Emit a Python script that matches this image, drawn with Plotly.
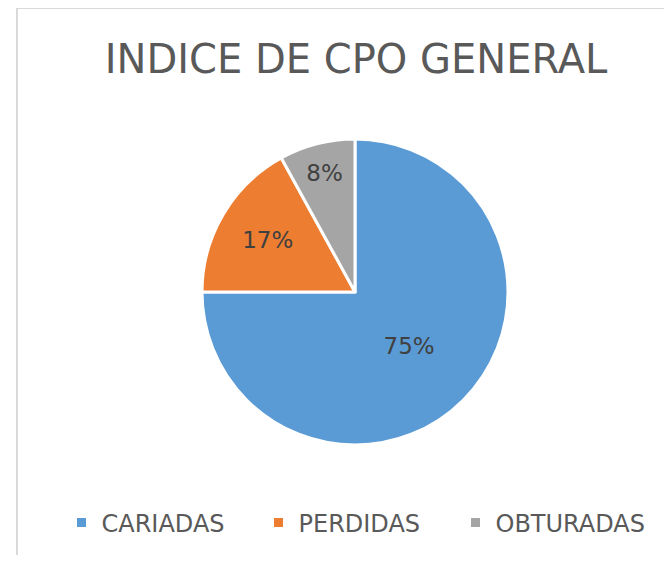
import plotly.graph_objects as go

categories = ["CARIADAS", "PERDIDAS", "OBTURADAS"]
values = [75, 17, 8]
colors = ["#5b9bd5", "#ed7d31", "#a5a5a5"]
title_text = "INDICE DE CPO GENERAL"

# page body has an 8px margin; figure sized to fit inside 672x563 window
OFF = 8
W, H = 672 - 2 * OFF, 563 - 2 * OFF


def px(x):
    return (x - OFF) / W


def py(y):
    return 1 - (y - OFF) / H


cx, cy, r = 355, 292, 153

fig = go.Figure()
fig.add_trace(go.Pie(
    labels=categories,
    values=values,
    sort=False,
    direction="clockwise",
    rotation=0,
    marker=dict(colors=colors, line=dict(color="white", width=3)),
    textinfo="percent",
    textposition="inside",
    insidetextorientation="horizontal",
    textfont=dict(family="DejaVu Sans", size=23, color="#404040"),
    hoverinfo="label+percent",
    domain=dict(x=[px(cx - r), px(cx + r)], y=[py(cy + r), py(cy - r)]),
))

fig.update_layout(
    width=W, height=H,
    margin=dict(l=0, r=0, t=0, b=0),
    paper_bgcolor="white",
    plot_bgcolor="white",
    title=dict(text=title_text, x=px(356), xanchor="center", y=py(59), yanchor="middle",
               font=dict(family="DejaVu Sans", size=40, color="#595959")),
    legend=dict(orientation="h", x=px(357), xanchor="center", y=py(523), yanchor="middle",
                font=dict(family="DejaVu Sans", size=24, color="#595959"),
                itemwidth=30, entrywidth=152, entrywidthmode="pixels"),
    shapes=[
        dict(type="line", xref="paper", yref="paper", x0=px(17), x1=1.0, y0=py(8), y1=py(8),
             line=dict(color="#d9d9d9", width=2)),
        dict(type="line", xref="paper", yref="paper", x0=px(17), x1=px(17), y0=0, y1=py(8),
             line=dict(color="#d9d9d9", width=2)),
    ],
)

fig.write_html("out.html", config={"displayModeBar": False})
